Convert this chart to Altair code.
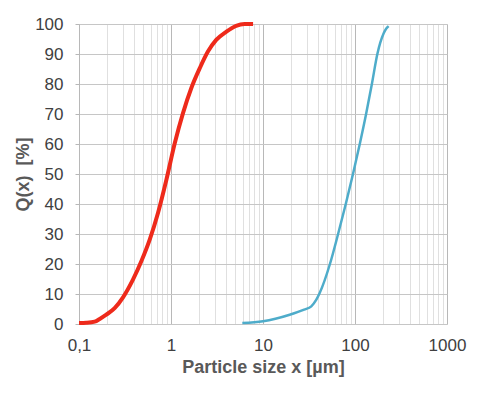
import altair as alt
import pandas as pd

# Red curve (fine powder)
red_x = [0.1, 0.12, 0.148, 0.168, 0.198, 0.244, 0.301, 0.386, 0.476, 0.587, 0.722, 0.89, 1.10, 1.35, 1.66, 2.05, 2.52, 3.1, 3.98, 5.1, 6.3, 7.8]
red_y = [0.3, 0.4, 0.8, 1.7, 3.1, 5.3, 8.9, 14.8, 20.9, 28.1, 37.0, 48.0, 60.3, 70.3, 78.6, 85.2, 90.8, 94.7, 97.4, 99.4, 100.0, 100.0]

# Blue curve (coarse powder)
blue_x = [5.96, 10.0, 19.5, 28.0, 33.5, 38.0, 41.3, 53.4, 65.5, 79.4, 95.1, 112.7, 132.0, 152.6, 175.0, 205.0, 219.0, 232.0]
blue_y = [0.3, 0.9, 3.1, 4.8, 5.9, 8.1, 10.3, 20.0, 30.0, 40.0, 50.0, 60.0, 70.0, 80.0, 90.0, 96.9, 98.5, 99.3]

x_ticks = [m * 10.0 ** e for e in range(-1, 3) for m in range(1, 10)] + [1000.0]
y_ticks = list(range(0, 101, 10))

df = pd.concat([
    pd.DataFrame({"x": red_x, "y": red_y, "s": "fine", "o": range(len(red_x))}),
    pd.DataFrame({"x": blue_x, "y": blue_y, "s": "coarse", "o": range(len(blue_x))}),
])

is_major = "abs(log(datum.value)/LN10 - round(log(datum.value)/LN10)) < 0.001"

x_axis = alt.Axis(
    values=x_ticks,
    title="Particle size x [µm]",
    labelExpr="(" + is_major + ") ? replace(format(datum.value, '~g'), '.', ',') : ''",
    gridColor={"condition": {"test": is_major, "value": "#b8b8b8"}, "value": "#e0e0e0"},
    gridWidth=1,
    ticks=False,
    domain=False,
    labelFont="Liberation Sans",
    labelFontSize=17,
    labelColor="#404040",
    labelPadding=13,
    labelFlush=False,
    labelBound=False,
    titleFont="Liberation Sans",
    titleFontSize=18,
    titleFontWeight="bold",
    titleColor="#595959",
    titlePadding=5,
    labelOverlap=False,
)

y_axis = alt.Axis(
    values=y_ticks,
    title="Q(x)\u00a0\u00a0[%]",
    gridColor="#c6c6c6",
    gridWidth=1,
    ticks=True,
    tickSize=4,
    tickColor="#b8b8b8",
    domain=True,
    domainColor="#b8b8b8",
    labelFont="Liberation Sans",
    labelFontSize=17,
    labelColor="#404040",
    labelPadding=12,
    labelFlush=False,
    titleFont="Liberation Sans",
    titleFontSize=18,
    titleFontWeight="bold",
    titleColor="#595959",
    titlePadding=2,
)

chart = alt.Chart(df).mark_line(interpolate="monotone").encode(
    x=alt.X("x:Q", scale=alt.Scale(type="log", domain=[0.1, 1000], nice=False), axis=x_axis),
    y=alt.Y("y:Q", scale=alt.Scale(domain=[0, 100], nice=False), axis=y_axis),
    color=alt.Color("s:N", scale=alt.Scale(domain=["fine", "coarse"], range=["#ee2a1b", "#4eacca"]), legend=None),
    strokeWidth=alt.StrokeWidth("s:N", scale=alt.Scale(domain=["fine", "coarse"], range=[4, 2.5]), legend=None),
    detail="s:N",
    order="o:Q",
).properties(
    width=368,
    height=300,
    autosize=alt.AutoSizeParams(type="none"),
    padding={"left": 71, "top": 16, "right": 20, "bottom": 56},
).configure_view(stroke="#b8b8b8", strokeWidth=1).configure(background="white")

chart.save("out.html", embed_options={"renderer": "svg", "actions": False})
